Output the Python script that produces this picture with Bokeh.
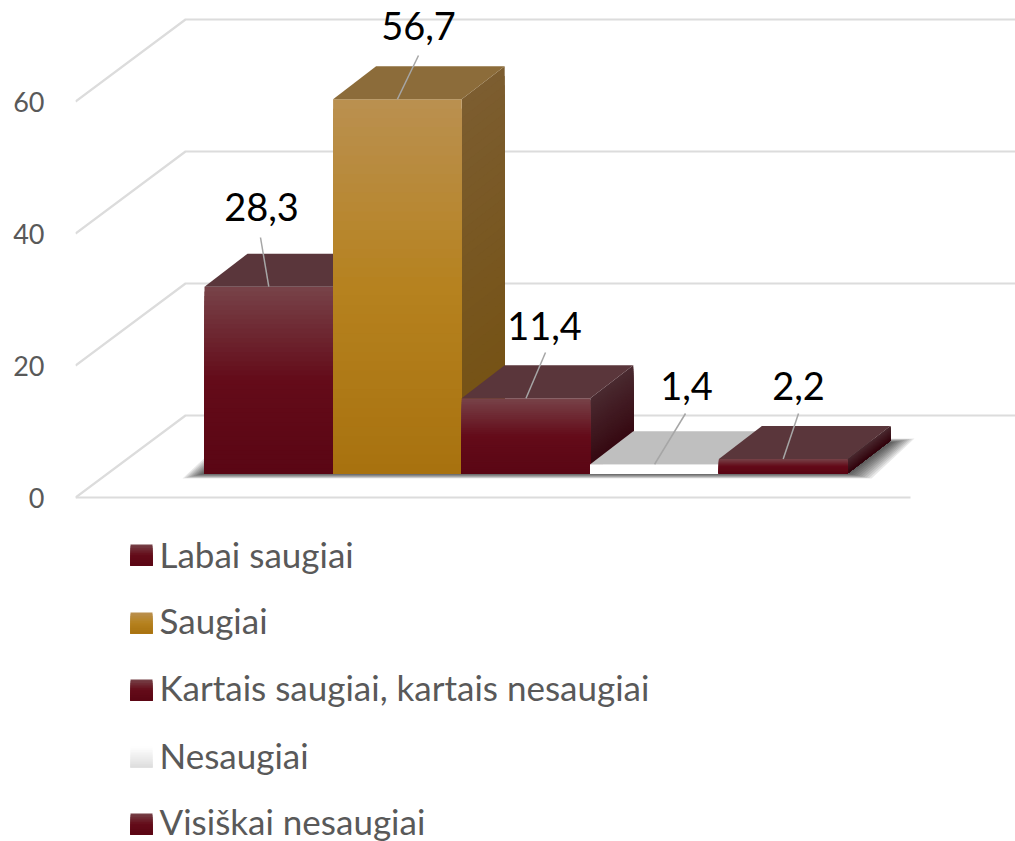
from bokeh.plotting import figure
from bokeh.models import Range1d, FixedTicker
from bokeh.core.properties import value
from bokeh.embed import file_html
from bokeh.resources import INLINE

# ---- data
categories = ["Labai saugiai", "Saugiai", "Kartais saugiai, kartais nesaugiai", "Nesaugiai", "Visiškai nesaugiai"]
values = [28.3, 56.7, 11.4, 1.4, 2.2]
value_labels = ["28,3", "56,7", "11,4", "1,4", "2,2"]
axis_ticks = [0, 20, 40, 60]

# ---- layout (page pixels -> data units)
W, H = 1015, 841
OFF = 0
FRAME_L = 75
PX_PER_CAT = 128.6
PX_PER_VAL = 6.6
X0_PX = 204
Y0_PX = 497

def X(px):
    return (px - X0_PX) / PX_PER_CAT

def Y(py):
    return (Y0_PX - py) / PX_PER_VAL

p = figure(width=W, height=H, output_backend="svg", toolbar_location=None,
           x_range=Range1d(X(FRAME_L), X(OFF + W)), y_range=Range1d(Y(OFF + H), Y(OFF)),
           x_axis_type=None, min_border_left=FRAME_L - OFF, min_border_right=0,
           min_border_top=0, min_border_bottom=0, outline_line_color=None)
p.grid.visible = False
p.background_fill_color = "white"

FONT = "Lato"
ax = p.yaxis[0]
ax.ticker = FixedTicker(ticks=axis_ticks)
ax.axis_line_color = None
ax.major_tick_line_color = None
ax.minor_tick_line_color = None
ax.major_label_standoff = 25
ax.major_label_text_font = FONT
ax.major_label_text_font_size = "27px"
ax.major_label_text_color = "#595959"

# depth geometry
WALL_DX = 110 / PX_PER_CAT
WALL_DY = 82 / PX_PER_VAL
BAR_DX = 43 / PX_PER_CAT
BAR_DY = 33 / PX_PER_VAL
BASE = Y(473)

# ---- walls / grid lines
gx, gy = [], []
for t in axis_ticks:
    xs = [X(FRAME_L), X(FRAME_L) + WALL_DX, X(OFF + W)]
    ys = [t, t + WALL_DY, t + WALL_DY]
    gx.append(xs)
    gy.append(ys)
p.multi_line(gx, gy, line_color="#dcdcdc", line_width=2.2)
p.line([X(FRAME_L), X(910)], [0, 0], line_color="#dcdcdc", line_width=2.2)

# ---- soft shadow under the bars
n = len(values)
for k in range(1, 11):
    l = X0_PX - 2.2 * k
    r = X0_PX + PX_PER_CAT * n + 2.4 * k
    drop = 0.5 * k
    rise = 0.4 * k - 2
    sx = [X(l), X(r), X(r + 43), X(l + 43)]
    sy = [BASE - drop / PX_PER_VAL, BASE - drop / PX_PER_VAL,
          BASE + BAR_DY + rise / PX_PER_VAL, BASE + BAR_DY + rise / PX_PER_VAL]
    p.patch(sx, sy, fill_color="#000000", fill_alpha=0.09, line_color=None)


def hex2rgb(c):
    return tuple(int(c[i:i + 2], 16) for i in (1, 3, 5))


def ramp(stops, f):
    for (a, ca), (b, cb) in zip(stops, stops[1:]):
        if f <= b:
            u = (f - a) / (b - a)
            A, B = hex2rgb(ca), hex2rgb(cb)
            return "#%02x%02x%02x" % tuple(round(A[i] + (B[i] - A[i]) * u) for i in range(3))
    return stops[-1][1]


MAROON = dict(front=[(0, "#774349"), (0.5, "#640b19"), (1, "#5a0614")],
              side=[(0, "#4a2a30"), (1, "#33040d")], top="#5a363b")
GOLD = dict(front=[(0, "#ba9050"), (0.5, "#b6821f"), (1, "#a8720f")],
            side=[(0, "#7c5d30"), (1, "#74500f")], top="#8c6c3a")
WHITE = dict(front=[(0, "#ffffff"), (1, "#ffffff")],
             side=[(0, "#bfbfbf"), (1, "#bfbfbf")], top="#bfbfbf")
styles = [MAROON, GOLD, MAROON, WHITE, MAROON]
swatches = [MAROON["front"], GOLD["front"], MAROON["front"],
            [(0, "#ffffff"), (1, "#dddddd")], MAROON["front"]]
STRIPS = 40

# ---- bars, left to right so that each one covers the previous one's side.
# Every strip runs down to the bottom of its face, so later strips paint over
# the earlier ones and no seam shows between them.
for i, (v, st) in enumerate(zip(values, styles)):
    top = BASE + v
    xs, ys, cs = [], [], []
    for s in range(STRIPS):
        a = top - v * s / STRIPS
        xs.append([i + 1, i + 1 + BAR_DX, i + 1 + BAR_DX, i + 1])
        ys.append([a, a + BAR_DY, BASE + BAR_DY, BASE])
        cs.append(ramp(st["side"], (s + 0.5) / STRIPS))
    for s in range(STRIPS):
        a = top - v * s / STRIPS
        xs.append([i, i + 1, i + 1, i])
        ys.append([a, a, BASE, BASE])
        cs.append(ramp(st["front"], (s + 0.5) / STRIPS))
    p.patches(xs, ys, fill_color=cs, line_color=None)
    p.patch([i, i + 1, i + 1 + BAR_DX, i + BAR_DX], [top, top, top + BAR_DY, top + BAR_DY],
            fill_color=st["top"], line_color=None)

# ---- value labels and their leader lines
LABEL_PX = [(261, 206), (418, 25), (544, 325), (686, 385), (798, 385)]
LEADER_END_PX = [(260, 237), (418, 55), (545, 352), (685, 413), (798, 413)]
for i, v in enumerate(values):
    ex, ey = LEADER_END_PX[i]
    p.line([i + 0.5, X(ex)], [BASE + v, Y(ey)], line_color="#a6a6a6", line_width=1.5)
p.text([X(a) for a, _ in LABEL_PX], [Y(b) for _, b in LABEL_PX], text=value_labels,
       text_font=value(FONT), text_font_size="38px", text_color="#000000",
       text_align="center", text_baseline="alphabetic")

# ---- legend
LEG_TOP = [544, 612, 679, 746, 813]
LEG_BASE = [553, 619, 686, 754, 820]
for top_px, swatch in zip(LEG_TOP, swatches):
    xs, ys, cs = [], [], []
    for s in range(12):
        xs.append([X(130), X(152), X(152), X(130)])
        ys.append([Y(top_px + 21 * s / 12), Y(top_px + 21 * s / 12), Y(top_px + 21), Y(top_px + 21)])
        cs.append(ramp(swatch, (s + 0.5) / 12))
    p.patches(xs, ys, fill_color=cs, line_color=None)
p.text([X(159)] * n, [Y(b) for b in LEG_BASE], text=categories,
       text_font=value(FONT), text_font_size="35px", text_color="#595959",
       text_align="left", text_baseline="alphabetic")

open("out.html", "w").write(file_html(p, INLINE))
